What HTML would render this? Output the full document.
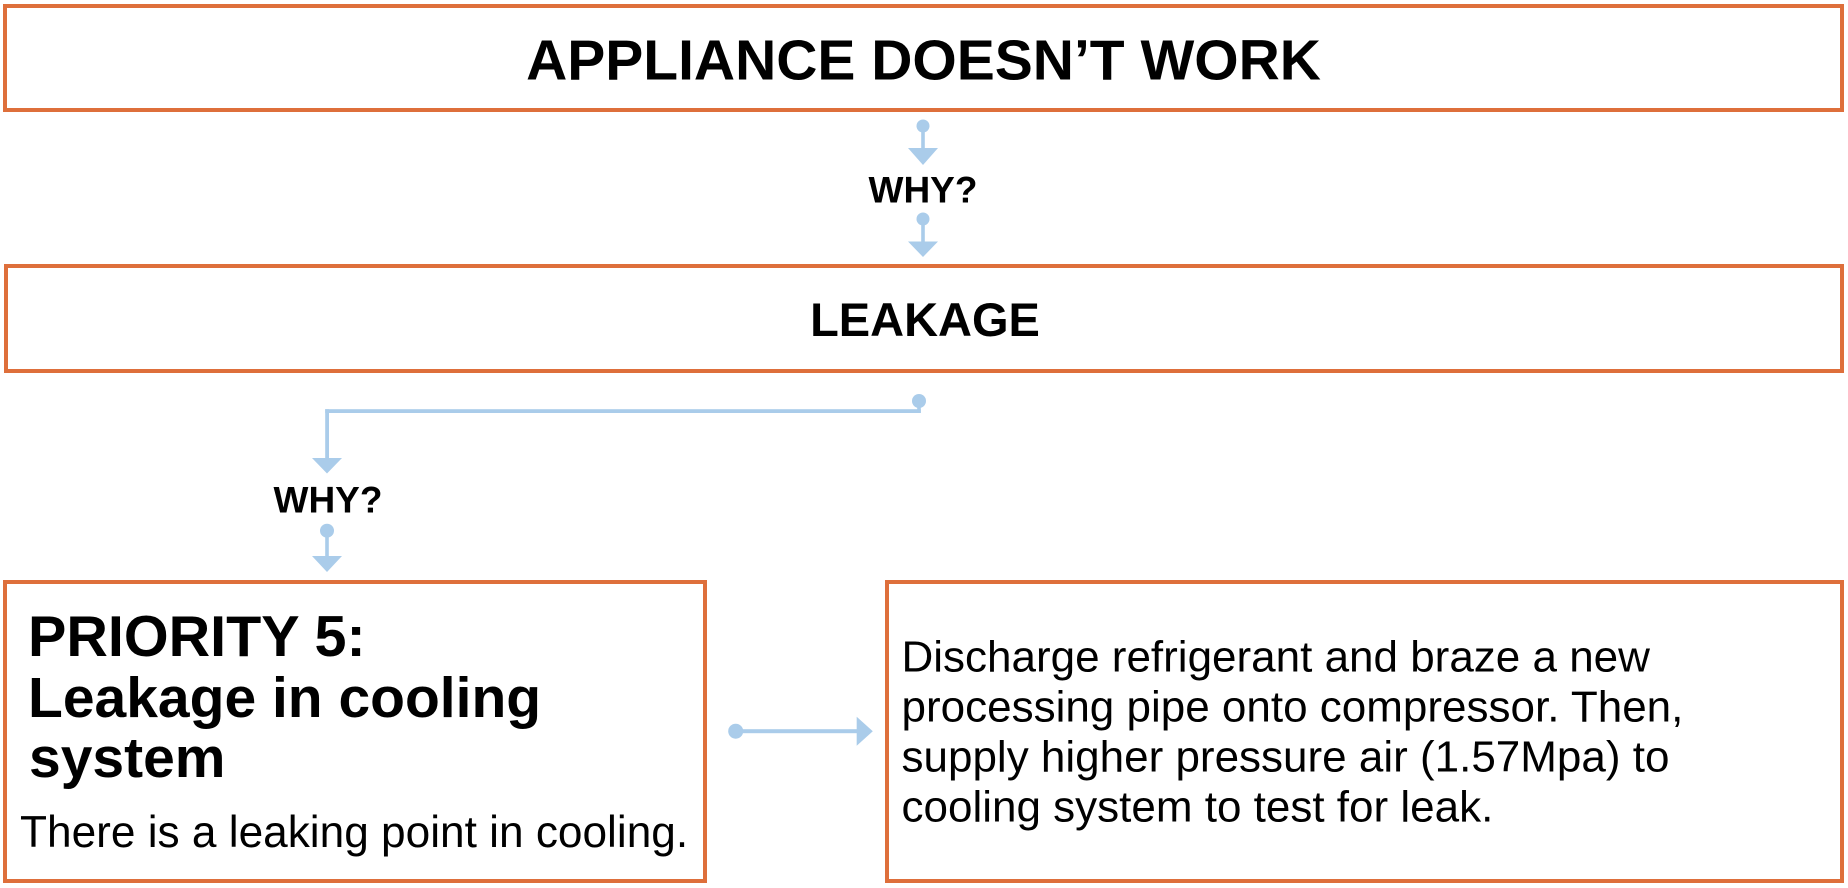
<!DOCTYPE html>
<html>
<head>
<meta charset="utf-8">
<style>
  html, body { margin: 0; padding: 0; background: #ffffff; }
  body { width: 1848px; height: 888px; overflow: hidden; }
  svg { display: block; }
  .b { font-family: "Liberation Sans", Arial, sans-serif; font-weight: bold; fill: #000; }
  .r { font-family: "Liberation Sans", Arial, sans-serif; font-weight: normal; fill: #000; }
</style>
</head>
<body>
<svg width="1848" height="888" viewBox="0 0 1848 888" xmlns="http://www.w3.org/2000/svg">
  <!-- Boxes -->
  <g fill="none" stroke="#DE6F3B" stroke-width="4">
    <rect x="5" y="6" width="1837" height="104"/>
    <rect x="6" y="266" width="1836" height="105"/>
    <rect x="5" y="582" width="700" height="299"/>
    <rect x="887" y="582" width="955" height="299"/>
  </g>

  <!-- Connectors -->
  <g fill="#AACCEA" stroke="none">
    <!-- top connector 1 -->
    <circle cx="923" cy="126" r="6.5"/>
    <rect x="921.2" y="126" width="3.6" height="23"/>
    <polygon points="908,148 938,148 923,165"/>
    <!-- top connector 2 -->
    <circle cx="923" cy="219" r="6.5"/>
    <rect x="921.2" y="219" width="3.6" height="23"/>
    <polygon points="908,241.5 938,241.5 923,257"/>
    <!-- elbow connector from LEAKAGE -->
    <circle cx="919" cy="401" r="7"/>
    <rect x="917.2" y="401" width="3.6" height="12"/>
    <rect x="325.2" y="409.2" width="595.6" height="3.8"/>
    <rect x="325.2" y="409.2" width="3.8" height="50"/>
    <polygon points="312,458 342,458 327,473.5"/>
    <!-- connector below WHY? 2 -->
    <circle cx="327" cy="530.7" r="7"/>
    <rect x="325.2" y="530" width="3.6" height="27"/>
    <polygon points="312,556 342,556 327,572"/>
    <!-- horizontal connector -->
    <circle cx="735.7" cy="731.2" r="7.5"/>
    <rect x="735" y="729.2" width="123" height="4"/>
    <polygon points="856.7,716.7 856.7,745.7 872.8,731.2"/>
  </g>

  <!-- Texts -->
  <text class="b" x="923.5" y="79.5" font-size="57" text-anchor="middle">APPLIANCE DOESN’T WORK</text>
  <text class="b" x="923" y="202.7" font-size="37" text-anchor="middle">WHY?</text>
  <text class="b" x="925" y="336" font-size="47" text-anchor="middle">LEAKAGE</text>
  <text class="b" x="328" y="512.7" font-size="37" text-anchor="middle">WHY?</text>

  <text class="b" x="28" y="656" font-size="57.5">PRIORITY 5:</text>
  <text class="b" x="28" y="717" font-size="57">Leakage in cooling</text>
  <text class="b" x="29" y="777" font-size="57">system</text>
  <text class="r" x="20" y="847" font-size="44.2">There is a leaking point in cooling.</text>

  <text class="r" x="901.5" y="671.7" font-size="44">Discharge refrigerant and braze a new</text>
  <text class="r" x="901.5" y="721.7" font-size="44">processing pipe onto compressor. Then,</text>
  <text class="r" x="901.5" y="771.7" font-size="44">supply higher pressure air (1.57Mpa) to</text>
  <text class="r" x="901.5" y="821.7" font-size="44">cooling system to test for leak.</text>
</svg>
</body>
</html>
